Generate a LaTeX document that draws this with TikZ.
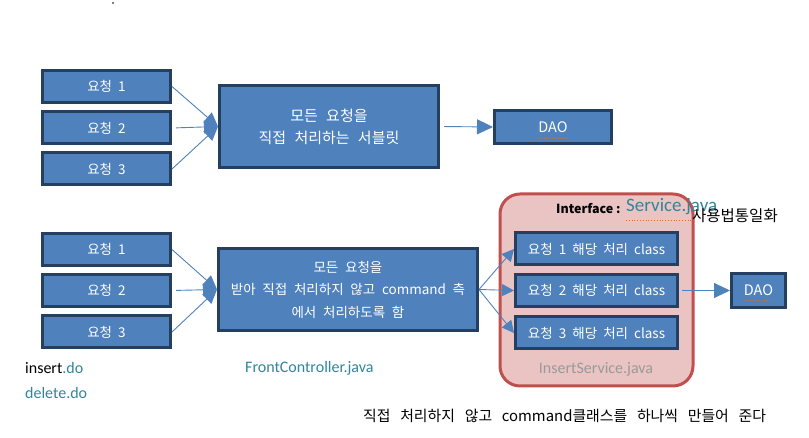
\documentclass[tikz,border=0pt]{standalone}
\usepackage{fontspec}
\setmainfont{Noto Sans CJK KR}
\newfontfamily\javafont{Carlito}
\usetikzlibrary{arrows.meta}

\definecolor{boxfill}{HTML}{4F81BD}
\definecolor{boxedge}{HTML}{243F60}
\definecolor{javablue}{HTML}{31859C}
\definecolor{pinkfill}{HTML}{E9C4C3}
\definecolor{pinkedge}{HTML}{C0504D}
\definecolor{spellorange}{HTML}{E46C0A}

% 글자 크기 + 낱말 사이 간격
\newcommand\krfont[3]{\fontsize{#1}{#2}\selectfont\spaceskip=#3em\relax}

\tikzset{
  box/.style={draw=boxedge, fill=boxfill, line width=3pt, text=white,
    font=\krfont{13.5}{15}{0.45}, inner sep=0pt},
  reqbox/.style={box, minimum width=128pt, minimum height=32pt},
  classbox/.style={box, minimum width=162pt, minimum height=32pt, font=\krfont{13.5}{15}{0.45}},
  daobox/.style={box, minimum height=33pt, font=\krfont{14.5}{16}{0.4}},
  link/.style={draw=boxfill, line width=0.9pt, -{Triangle[length=14pt,width=13pt]}},
  spell/.style={draw=spellorange, line width=0.8pt, dotted},
  javatext/.style={font=\javafont\fontsize{16}{18}\selectfont, text=javablue, inner sep=0pt},
}

\begin{document}
\begin{tikzpicture}[x=1pt, y=-1pt]
\useasboundingbox (0,0) rectangle (809,438);
\fill (113,3) circle (0.8pt);

% 위쪽: 모든 요청을 직접 처리하는 서블릿
\node[reqbox] (ra) at (106.5,86.5) {요청 1};
\node[reqbox] (rb) at (106.5,128) {요청 2};
\node[reqbox] (rc) at (106.5,169) {요청 3};
\node[box, minimum width=219pt, minimum height=82pt, align=center,
  font=\krfont{15}{22}{0.55}] (servlet) at (329,126.5) {모든 요청을\\직접 처리하는 서블릿};
\node[daobox, minimum width=117pt] (dao) at (553,127) {DAO};
\draw[spell] (538,138) -- (567,138);

\draw[link] (ra.east) -- (servlet.west);
\draw[link, shorten <=4pt] (rb.east) -- (servlet.west);
\draw[link] (rc.east) -- (servlet.west);
\draw[link, shorten <=4pt, -{Triangle[length=16pt,width=15pt]}] (servlet.east) -- (dao.west);

% 아래쪽: FrontController
\node[reqbox] (qa) at (106.5,249.5) {요청 1};
\node[reqbox] (qb) at (106.5,290.5) {요청 2};
\node[reqbox] (qc) at (106.5,332) {요청 3};
\node[box, minimum width=259pt, minimum height=82pt, align=center,
  font=\krfont{13.5}{22.5}{0.5}] (front) at (348,289.5)
  {모든 요청을\\받아 직접 처리하지 않고 command 측\\에서 처리하도록 함};

\draw[link] (qa.east) -- (front.west);
\draw[link, shorten <=4pt] (qb.east) -- (front.west);
\draw[link] (qc.east) -- (front.west);

% InsertService.java (command 클래스들)
\draw[draw=pinkedge, fill=pinkfill, line width=3pt, rounded corners=20pt]
  (500,194) rectangle (693,386);
\node[classbox] (ca) at (596.5,249) {요청 1 해당 처리 class};
\node[classbox] (cb) at (596.5,290.5) {요청 2 해당 처리 class};
\node[classbox] (cc) at (596.5,333) {요청 3 해당 처리 class};
\node[daobox, minimum width=54pt, minimum height=34pt] (dao2) at (758.5,290.5) {DAO};
\draw[spell] (745,300) -- (773,300);

\draw[link, -{Triangle[length=12pt,width=12pt]}] (front.east) -- (ca.west);
\draw[link, -{Triangle[length=12pt,width=12pt]}] (front.east) -- (cb.west);
\draw[link, -{Triangle[length=12pt,width=12pt]}] (front.east) -- (cc.west);
\draw[link, shorten <=3pt, -{Triangle[length=16pt,width=15pt]}] (cb.east) -- (dao2.west);

% 글자들
\node[anchor=west, font=\fontsize{12.5}{14}\selectfont\bfseries, inner sep=0pt] (iface) at (556,209) {Interface :};
\node[anchor=west, javatext, font=\javafont\fontsize{19}{22}\selectfont] (svc) at (626,207) {Service.java};
\draw[spell] (626,220) -- (693,220);
\node[anchor=west, font=\krfont{15.5}{17}{0.5}, inner sep=0pt] (unify) at (692,216) {사용법통일화};
\node[javatext, text=black!40] (insvc) at (596,369) {InsertService.java};

\node[anchor=west, javatext, text=black] (ins) at (25,368) {insert\textcolor{javablue}{.do}};
\node[anchor=west, javatext] (del) at (25,393) {delete.do};
\node[anchor=west, javatext] (fcjava) at (245,368) {FrontController.java};
\node[anchor=west, font=\krfont{14.9}{17}{0.65}, inner sep=0pt] (note) at (363,416)
  {직접 처리하지 않고 command클래스를 하나씩 만들어 준다};
\end{tikzpicture}
\end{document}
